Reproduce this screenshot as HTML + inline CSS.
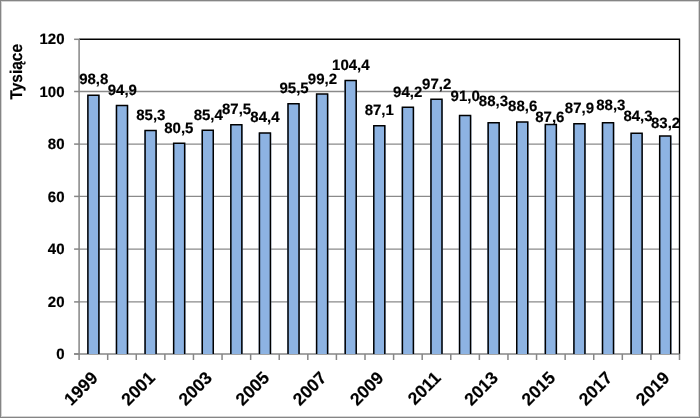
<!DOCTYPE html><html><head><meta charset="utf-8"><style>html,body{margin:0;padding:0;background:#fff;}svg{display:block;}text{font-family:"Liberation Sans",sans-serif;font-weight:bold;fill:#000;stroke:#000;stroke-width:0.18px;text-rendering:geometricPrecision;}</style></head><body>
<svg width="700" height="418" viewBox="0 0 700 418">
<defs><filter id="gs" x="0" y="0" width="100%" height="100%" color-interpolation-filters="sRGB"><feColorMatrix type="saturate" values="0"/></filter></defs>
<rect x="0" y="0" width="700" height="418" fill="#fff"/>
<rect x="0.5" y="0.5" width="699" height="417" fill="none" stroke="#858585" stroke-width="1"/>
<rect x="1.5" y="1.5" width="697" height="415" fill="none" stroke="#d4d4d4" stroke-width="1"/>
<line x1="79.1" y1="301.90" x2="679.5" y2="301.90" stroke="#8a8a8a" stroke-width="1.4"/>
<line x1="79.1" y1="249.10" x2="679.5" y2="249.10" stroke="#8a8a8a" stroke-width="1.4"/>
<line x1="79.1" y1="196.40" x2="679.5" y2="196.40" stroke="#8a8a8a" stroke-width="1.4"/>
<line x1="79.1" y1="144.10" x2="679.5" y2="144.10" stroke="#8a8a8a" stroke-width="1.4"/>
<line x1="79.1" y1="91.50" x2="679.5" y2="91.50" stroke="#8a8a8a" stroke-width="1.4"/>
<polyline points="79.1,39.3 679.5,39.3 679.5,354.0" fill="none" stroke="#000" stroke-width="1.4"/>
<line x1="79.1" y1="39.0" x2="79.1" y2="354.0" stroke="#868686" stroke-width="1.5"/>
<line x1="74.1" y1="354.0" x2="679.5" y2="354.0" stroke="#868686" stroke-width="1.5"/>
<rect x="87.15" y="95.15" width="12.50" height="258.85" fill="#8DB3E2"/>
<polyline points="87.90,354.00 87.90,95.15 98.90,95.15 98.90,354.00" fill="none" stroke="#000" stroke-width="1.5"/>
<rect x="115.74" y="105.39" width="12.50" height="248.61" fill="#8DB3E2"/>
<polyline points="116.49,354.00 116.49,105.39 127.49,105.39 127.49,354.00" fill="none" stroke="#000" stroke-width="1.5"/>
<rect x="144.33" y="130.59" width="12.50" height="223.41" fill="#8DB3E2"/>
<polyline points="145.08,354.00 145.08,130.59 156.08,130.59 156.08,354.00" fill="none" stroke="#000" stroke-width="1.5"/>
<rect x="172.92" y="143.19" width="12.50" height="210.81" fill="#8DB3E2"/>
<polyline points="173.67,354.00 173.67,143.19 184.67,143.19 184.67,354.00" fill="none" stroke="#000" stroke-width="1.5"/>
<rect x="201.51" y="130.32" width="12.50" height="223.68" fill="#8DB3E2"/>
<polyline points="202.26,354.00 202.26,130.32 213.26,130.32 213.26,354.00" fill="none" stroke="#000" stroke-width="1.5"/>
<rect x="230.10" y="124.81" width="12.50" height="229.19" fill="#8DB3E2"/>
<polyline points="230.85,354.00 230.85,124.81 241.85,124.81 241.85,354.00" fill="none" stroke="#000" stroke-width="1.5"/>
<rect x="258.69" y="132.95" width="12.50" height="221.05" fill="#8DB3E2"/>
<polyline points="259.44,354.00 259.44,132.95 270.44,132.95 270.44,354.00" fill="none" stroke="#000" stroke-width="1.5"/>
<rect x="287.28" y="103.81" width="12.50" height="250.19" fill="#8DB3E2"/>
<polyline points="288.03,354.00 288.03,103.81 299.03,103.81 299.03,354.00" fill="none" stroke="#000" stroke-width="1.5"/>
<rect x="315.87" y="94.10" width="12.50" height="259.90" fill="#8DB3E2"/>
<polyline points="316.62,354.00 316.62,94.10 327.62,94.10 327.62,354.00" fill="none" stroke="#000" stroke-width="1.5"/>
<rect x="344.46" y="80.45" width="12.50" height="273.55" fill="#8DB3E2"/>
<polyline points="345.21,354.00 345.21,80.45 356.21,80.45 356.21,354.00" fill="none" stroke="#000" stroke-width="1.5"/>
<rect x="373.05" y="125.86" width="12.50" height="228.14" fill="#8DB3E2"/>
<polyline points="373.80,354.00 373.80,125.86 384.80,125.86 384.80,354.00" fill="none" stroke="#000" stroke-width="1.5"/>
<rect x="401.64" y="107.22" width="12.50" height="246.78" fill="#8DB3E2"/>
<polyline points="402.39,354.00 402.39,107.22 413.39,107.22 413.39,354.00" fill="none" stroke="#000" stroke-width="1.5"/>
<rect x="430.23" y="99.35" width="12.50" height="254.65" fill="#8DB3E2"/>
<polyline points="430.98,354.00 430.98,99.35 441.98,99.35 441.98,354.00" fill="none" stroke="#000" stroke-width="1.5"/>
<rect x="458.82" y="115.62" width="12.50" height="238.38" fill="#8DB3E2"/>
<polyline points="459.57,354.00 459.57,115.62 470.57,115.62 470.57,354.00" fill="none" stroke="#000" stroke-width="1.5"/>
<rect x="487.41" y="122.71" width="12.50" height="231.29" fill="#8DB3E2"/>
<polyline points="488.16,354.00 488.16,122.71 499.16,122.71 499.16,354.00" fill="none" stroke="#000" stroke-width="1.5"/>
<rect x="516.00" y="121.93" width="12.50" height="232.07" fill="#8DB3E2"/>
<polyline points="516.75,354.00 516.75,121.93 527.75,121.93 527.75,354.00" fill="none" stroke="#000" stroke-width="1.5"/>
<rect x="544.59" y="124.55" width="12.50" height="229.45" fill="#8DB3E2"/>
<polyline points="545.34,354.00 545.34,124.55 556.34,124.55 556.34,354.00" fill="none" stroke="#000" stroke-width="1.5"/>
<rect x="573.18" y="123.76" width="12.50" height="230.24" fill="#8DB3E2"/>
<polyline points="573.93,354.00 573.93,123.76 584.93,123.76 584.93,354.00" fill="none" stroke="#000" stroke-width="1.5"/>
<rect x="601.77" y="122.71" width="12.50" height="231.29" fill="#8DB3E2"/>
<polyline points="602.52,354.00 602.52,122.71 613.52,122.71 613.52,354.00" fill="none" stroke="#000" stroke-width="1.5"/>
<rect x="630.36" y="133.21" width="12.50" height="220.79" fill="#8DB3E2"/>
<polyline points="631.11,354.00 631.11,133.21 642.11,133.21 642.11,354.00" fill="none" stroke="#000" stroke-width="1.5"/>
<rect x="658.95" y="136.10" width="12.50" height="217.90" fill="#8DB3E2"/>
<polyline points="659.70,354.00 659.70,136.10 670.70,136.10 670.70,354.00" fill="none" stroke="#000" stroke-width="1.5"/>
<line x1="74.1" y1="354.00" x2="79.1" y2="354.00" stroke="#868686" stroke-width="1.5"/>
<line x1="74.1" y1="301.90" x2="79.1" y2="301.90" stroke="#868686" stroke-width="1.5"/>
<line x1="74.1" y1="249.10" x2="79.1" y2="249.10" stroke="#868686" stroke-width="1.5"/>
<line x1="74.1" y1="196.40" x2="79.1" y2="196.40" stroke="#868686" stroke-width="1.5"/>
<line x1="74.1" y1="144.10" x2="79.1" y2="144.10" stroke="#868686" stroke-width="1.5"/>
<line x1="74.1" y1="91.50" x2="79.1" y2="91.50" stroke="#868686" stroke-width="1.5"/>
<line x1="74.1" y1="39.30" x2="79.1" y2="39.30" stroke="#868686" stroke-width="1.5"/>
<line x1="79.10" y1="354.0" x2="79.10" y2="360.0" stroke="#868686" stroke-width="1.5"/>
<line x1="107.69" y1="354.0" x2="107.69" y2="360.0" stroke="#868686" stroke-width="1.5"/>
<line x1="136.28" y1="354.0" x2="136.28" y2="360.0" stroke="#868686" stroke-width="1.5"/>
<line x1="164.87" y1="354.0" x2="164.87" y2="360.0" stroke="#868686" stroke-width="1.5"/>
<line x1="193.46" y1="354.0" x2="193.46" y2="360.0" stroke="#868686" stroke-width="1.5"/>
<line x1="222.05" y1="354.0" x2="222.05" y2="360.0" stroke="#868686" stroke-width="1.5"/>
<line x1="250.64" y1="354.0" x2="250.64" y2="360.0" stroke="#868686" stroke-width="1.5"/>
<line x1="279.23" y1="354.0" x2="279.23" y2="360.0" stroke="#868686" stroke-width="1.5"/>
<line x1="307.82" y1="354.0" x2="307.82" y2="360.0" stroke="#868686" stroke-width="1.5"/>
<line x1="336.41" y1="354.0" x2="336.41" y2="360.0" stroke="#868686" stroke-width="1.5"/>
<line x1="365.00" y1="354.0" x2="365.00" y2="360.0" stroke="#868686" stroke-width="1.5"/>
<line x1="393.60" y1="354.0" x2="393.60" y2="360.0" stroke="#868686" stroke-width="1.5"/>
<line x1="422.19" y1="354.0" x2="422.19" y2="360.0" stroke="#868686" stroke-width="1.5"/>
<line x1="450.78" y1="354.0" x2="450.78" y2="360.0" stroke="#868686" stroke-width="1.5"/>
<line x1="479.37" y1="354.0" x2="479.37" y2="360.0" stroke="#868686" stroke-width="1.5"/>
<line x1="507.96" y1="354.0" x2="507.96" y2="360.0" stroke="#868686" stroke-width="1.5"/>
<line x1="536.55" y1="354.0" x2="536.55" y2="360.0" stroke="#868686" stroke-width="1.5"/>
<line x1="565.14" y1="354.0" x2="565.14" y2="360.0" stroke="#868686" stroke-width="1.5"/>
<line x1="593.73" y1="354.0" x2="593.73" y2="360.0" stroke="#868686" stroke-width="1.5"/>
<line x1="622.32" y1="354.0" x2="622.32" y2="360.0" stroke="#868686" stroke-width="1.5"/>
<line x1="650.91" y1="354.0" x2="650.91" y2="360.0" stroke="#868686" stroke-width="1.5"/>
<line x1="679.50" y1="354.0" x2="679.50" y2="360.0" stroke="#868686" stroke-width="1.5"/>
<g filter="url(#gs)">
<text transform="translate(64.5,359.00) scale(1.0,1)" font-size="15.0" text-anchor="end">0</text>
<text transform="translate(64.5,306.50) scale(1.0,1)" font-size="15.0" text-anchor="end">20</text>
<text transform="translate(64.5,254.00) scale(1.0,1)" font-size="15.0" text-anchor="end">40</text>
<text transform="translate(64.5,201.50) scale(1.0,1)" font-size="15.0" text-anchor="end">60</text>
<text transform="translate(64.5,149.00) scale(1.0,1)" font-size="15.0" text-anchor="end">80</text>
<text transform="translate(64.5,96.50) scale(1.0,1)" font-size="15.0" text-anchor="end">100</text>
<text transform="translate(64.5,44.00) scale(1.0,1)" font-size="15.0" text-anchor="end">120</text>
<text transform="translate(22.3,71.8) rotate(-90) scale(0.91,1)" font-size="17.0" text-anchor="middle">Tysiące</text>
<text transform="translate(93.75,84.30) scale(1.0,1)" font-size="15.0" text-anchor="middle">98,8</text>
<text transform="translate(122.35,94.70) scale(1.0,1)" font-size="15.0" text-anchor="middle">94,9</text>
<text transform="translate(150.80,119.60) scale(1.0,1)" font-size="15.0" text-anchor="middle">85,3</text>
<text transform="translate(178.80,132.60) scale(1.0,1)" font-size="15.0" text-anchor="middle">80,5</text>
<text transform="translate(208.25,119.70) scale(1.0,1)" font-size="15.0" text-anchor="middle">85,4</text>
<text transform="translate(236.60,113.70) scale(1.0,1)" font-size="15.0" text-anchor="middle">87,5</text>
<text transform="translate(264.95,122.00) scale(1.0,1)" font-size="15.0" text-anchor="middle">84,4</text>
<text transform="translate(294.05,93.20) scale(1.0,1)" font-size="15.0" text-anchor="middle">95,5</text>
<text transform="translate(322.40,84.20) scale(1.0,1)" font-size="15.0" text-anchor="middle">99,2</text>
<text transform="translate(350.85,69.70) scale(1.0,1)" font-size="15.0" text-anchor="middle">104,4</text>
<text transform="translate(379.25,115.10) scale(1.0,1)" font-size="15.0" text-anchor="middle">87,1</text>
<text transform="translate(407.70,96.50) scale(1.0,1)" font-size="15.0" text-anchor="middle">94,2</text>
<text transform="translate(436.70,88.70) scale(1.0,1)" font-size="15.0" text-anchor="middle">97,2</text>
<text transform="translate(465.20,100.90) scale(1.0,1)" font-size="15.0" text-anchor="middle">91,0</text>
<text transform="translate(493.45,106.40) scale(1.0,1)" font-size="15.0" text-anchor="middle">88,3</text>
<text transform="translate(522.65,111.20) scale(1.0,1)" font-size="15.0" text-anchor="middle">88,6</text>
<text transform="translate(549.85,121.50) scale(1.0,1)" font-size="15.0" text-anchor="middle">87,6</text>
<text transform="translate(579.45,113.30) scale(1.0,1)" font-size="15.0" text-anchor="middle">87,9</text>
<text transform="translate(610.80,110.30) scale(1.0,1)" font-size="15.0" text-anchor="middle">88,3</text>
<text transform="translate(638.00,121.30) scale(1.0,1)" font-size="15.0" text-anchor="middle">84,3</text>
<text transform="translate(665.60,128.40) scale(1.0,1)" font-size="15.0" text-anchor="middle">83,2</text>
<text transform="translate(89.80,369.90) rotate(-45)" font-size="17.5" text-anchor="end" dominant-baseline="hanging">1999</text>
<text transform="translate(146.98,369.90) rotate(-45)" font-size="17.5" text-anchor="end" dominant-baseline="hanging">2001</text>
<text transform="translate(204.16,369.90) rotate(-45)" font-size="17.5" text-anchor="end" dominant-baseline="hanging">2003</text>
<text transform="translate(261.34,369.90) rotate(-45)" font-size="17.5" text-anchor="end" dominant-baseline="hanging">2005</text>
<text transform="translate(318.52,369.90) rotate(-45)" font-size="17.5" text-anchor="end" dominant-baseline="hanging">2007</text>
<text transform="translate(375.70,369.90) rotate(-45)" font-size="17.5" text-anchor="end" dominant-baseline="hanging">2009</text>
<text transform="translate(432.88,369.90) rotate(-45)" font-size="17.5" text-anchor="end" dominant-baseline="hanging">2011</text>
<text transform="translate(490.06,369.90) rotate(-45)" font-size="17.5" text-anchor="end" dominant-baseline="hanging">2013</text>
<text transform="translate(547.24,369.90) rotate(-45)" font-size="17.5" text-anchor="end" dominant-baseline="hanging">2015</text>
<text transform="translate(604.42,369.90) rotate(-45)" font-size="17.5" text-anchor="end" dominant-baseline="hanging">2017</text>
<text transform="translate(661.60,369.90) rotate(-45)" font-size="17.5" text-anchor="end" dominant-baseline="hanging">2019</text>
</g>
</svg></body></html>
